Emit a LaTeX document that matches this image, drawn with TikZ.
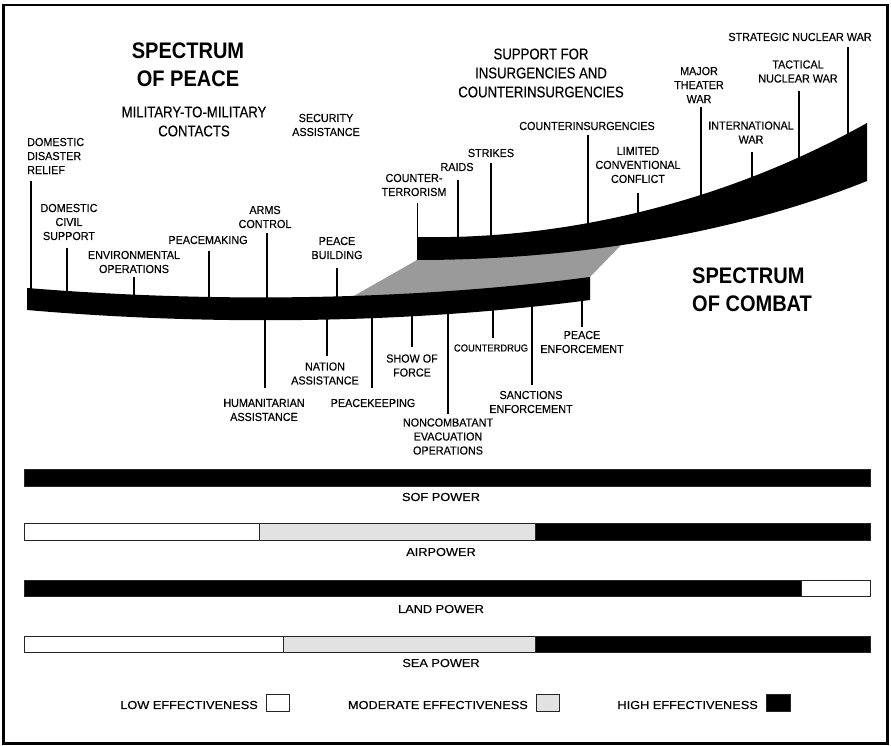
\documentclass[tikz,border=0pt]{standalone}
\usepackage{fontspec}
\setmainfont{Liberation Sans}
\newfontfamily\lblfont[FakeStretch=0.93,FakeBold=0.3]{Liberation Sans}
\newfontfamily\condfont[FakeStretch=0.85,FakeBold=0.3]{Liberation Sans}
\newfontfamily\titlefont[FakeStretch=0.89]{Liberation Sans}
\newfontfamily\barfont[FakeStretch=1.1,FakeBold=0.3]{Liberation Sans}
\definecolor{midgray}{HTML}{9A9A9A}
\definecolor{lightgray}{HTML}{E2E2E2}
\tikzset{
  lbl/.style={font=\lblfont\fontsize{11.6}{14}\selectfont, align=center, inner sep=0pt},
  medlbl/.style={font=\condfont\fontsize{15.5}{19}\selectfont, align=center, inner sep=0pt},
  biglbl/.style={font=\titlefont\bfseries\fontsize{22.5}{28}\selectfont, align=center, inner sep=0pt},
  barlbl/.style={font=\barfont\fontsize{11.6}{15}\selectfont, inner sep=0pt},
  tick/.style={line width=1.5pt},
  barseg/.style={draw=black!85, line width=0.8pt},
}
\begin{document}
\begin{tikzpicture}[x=1pt,y=-1pt]
\useasboundingbox (0,0) rectangle (891,746);
\draw[line width=2.5pt] (3.5,5) rectangle (887.5,743.5);

% gray connection between the bands
\fill[midgray] (345,301) -- (417,260) -- (417,245) -- (625,241) -- (590,277) -- (590,290) -- cycle;

% spectrum of peace band
\fill (27,288) .. controls (200,302) and (400,302) .. (590,277) -- (590,300)
      .. controls (400,325) and (200,325) .. (27,310) -- cycle;
% spectrum of combat band
\fill (417,237) .. controls (560,240) and (720,205) .. (867,123) -- (867,181)
      .. controls (740,232) and (580,260) .. (417,260) -- cycle;

% titles
\node[biglbl] (peace) at (188,65) {SPECTRUM\\OF PEACE};
\node[biglbl, anchor=west, align=left] (combat) at (692,290) {SPECTRUM\\OF COMBAT};
\node[medlbl] (mil) at (194,121.5) {MILITARY-TO-MILITARY\\CONTACTS};
\node[medlbl] (sup) at (541,73) {SUPPORT FOR\\INSURGENCIES AND\\COUNTERINSURGENCIES};
\node[lbl] (sec) at (326,125) {SECURITY\\ASSISTANCE};

% labels above the peace band
\node[lbl, anchor=west, align=left] (ddr) at (27,156) {DOMESTIC\\DISASTER\\RELIEF};
\node[lbl] (dcs) at (69,222) {DOMESTIC\\CIVIL\\SUPPORT};
\node[lbl] (env) at (134,262) {ENVIRONMENTAL\\OPERATIONS};
\node[lbl] (pm) at (208,240) {PEACEMAKING};
\node[lbl] (arms) at (265,217) {ARMS\\CONTROL};
\node[lbl] (pb) at (337,248) {PEACE\\BUILDING};

\coordinate (ddrA) at (31,181);  \coordinate (ddrB) at (31,295);
\coordinate (dcsA) at (67,248);  \coordinate (dcsB) at (67,296);
\coordinate (envA) at (134,277); \coordinate (envB) at (134,299);
\coordinate (pmA) at (209,251);  \coordinate (pmB) at (209,302);
\coordinate (armsA) at (267,233);\coordinate (armsB) at (267,303);
\coordinate (pbA) at (337,268);  \coordinate (pbB) at (337,303);
\foreach \n in {ddr,dcs,env,pm,arms,pb} \draw[tick] (\n A) -- (\n B);

% labels below the peace band
\node[lbl] (hum) at (264,410) {HUMANITARIAN\\ASSISTANCE};
\node[lbl] (nat) at (325,373.5) {NATION\\ASSISTANCE};
\node[lbl] (pk) at (373,403) {PEACEKEEPING};
\node[lbl] (sof) at (412,365.5) {SHOW OF\\FORCE};
\node[lbl] (neo) at (448,436.5) {NONCOMBATANT\\EVACUATION\\OPERATIONS};
\node[lbl, font=\lblfont\fontsize{10.1}{14}\selectfont] (cd) at (491,348) {COUNTERDRUG};
\node[lbl] (sanc) at (531,402) {SANCTIONS\\ENFORCEMENT};
\node[lbl] (pe) at (582,342) {PEACE\\ENFORCEMENT};

\coordinate (humA) at (265,312); \coordinate (humB) at (265,388);
\coordinate (natA) at (327,312); \coordinate (natB) at (327,356);
\coordinate (pkA) at (372,311);  \coordinate (pkB) at (372,388);
\coordinate (sofA) at (412,310); \coordinate (sofB) at (412,347);
\coordinate (neoA) at (448,309); \coordinate (neoB) at (448,414);
\coordinate (cdA) at (493,306);  \coordinate (cdB) at (493,338);
\coordinate (sancA) at (532,304);\coordinate (sancB) at (532,385);
\coordinate (peA) at (582,296);  \coordinate (peB) at (582,327);
\foreach \n in {hum,nat,pk,sof,neo,cd,sanc,pe} \draw[tick] (\n A) -- (\n B);

% labels above the combat band
\node[lbl] (ct) at (414,185) {COUNTER-\\TERRORISM};
\node[lbl] (raid) at (457,167) {RAIDS};
\node[lbl] (strk) at (491,153) {STRIKES};
\node[lbl] (ci) at (587,126) {COUNTERINSURGENCIES};
\node[lbl] (lcc) at (638,165) {LIMITED\\CONVENTIONAL\\CONFLICT};
\node[lbl] (mtw) at (699,85) {MAJOR\\THEATER\\WAR};
\node[lbl] (iw) at (751,132.5) {INTERNATIONAL\\WAR};
\node[lbl] (tnw) at (798,71.5) {TACTICAL\\NUCLEAR WAR};
\node[lbl] (snw) at (800,37) {STRATEGIC NUCLEAR WAR};

\coordinate (ctA) at (417.7,203);  \coordinate (ctB) at (417.7,245);
\coordinate (raidA) at (458,180);  \coordinate (raidB) at (458,245);
\coordinate (strkA) at (491,163);  \coordinate (strkB) at (491,245);
\coordinate (ciA) at (588,135);    \coordinate (ciB) at (588,232);
\coordinate (lccA) at (638,193);   \coordinate (lccB) at (638,222);
\coordinate (mtwA) at (701,107);   \coordinate (mtwB) at (701,205);
\coordinate (iwA) at (752,152);    \coordinate (iwB) at (752,188);
\coordinate (tnwA) at (799,91);    \coordinate (tnwB) at (799,170);
\coordinate (snwA) at (848,47);    \coordinate (snwB) at (848,145);
\foreach \n in {ct,raid,strk,ci,lcc,mtw,iw,tnw,snw} \draw[tick] (\n A) -- (\n B);

% effectiveness bars
\draw[barseg, fill=black] (24,469) rectangle (870,486);
\node[barlbl] (sofp) at (441,497) {SOF POWER};

\draw[barseg, fill=white] (24,523) rectangle (259,540);
\draw[barseg, fill=lightgray] (259,523) rectangle (535,540);
\draw[barseg, fill=black] (535,523) rectangle (870,540);
\node[barlbl] (airp) at (441,552) {AIRPOWER};

\draw[barseg, fill=black] (24,580) rectangle (801,596);
\draw[barseg, fill=white] (801,580) rectangle (870,596);
\node[barlbl] (landp) at (441,609) {LAND POWER};

\draw[barseg, fill=white] (24,636) rectangle (283,652);
\draw[barseg, fill=lightgray] (283,636) rectangle (535,652);
\draw[barseg, fill=black] (535,636) rectangle (870,652);
\node[barlbl] (seap) at (441,663) {SEA POWER};

% legend
\node[barlbl, anchor=east] (low) at (258,705) {LOW EFFECTIVENESS};
\draw[barseg, fill=white] (266,694) rectangle (289,711);
\node[barlbl, anchor=east] (mod) at (528,705) {MODERATE EFFECTIVENESS};
\draw[barseg, fill=lightgray] (536,694) rectangle (559,711);
\node[barlbl, anchor=east] (high) at (758,705) {HIGH EFFECTIVENESS};
\draw[barseg, fill=black] (766,694) rectangle (790,711);
\end{tikzpicture}
\end{document}
